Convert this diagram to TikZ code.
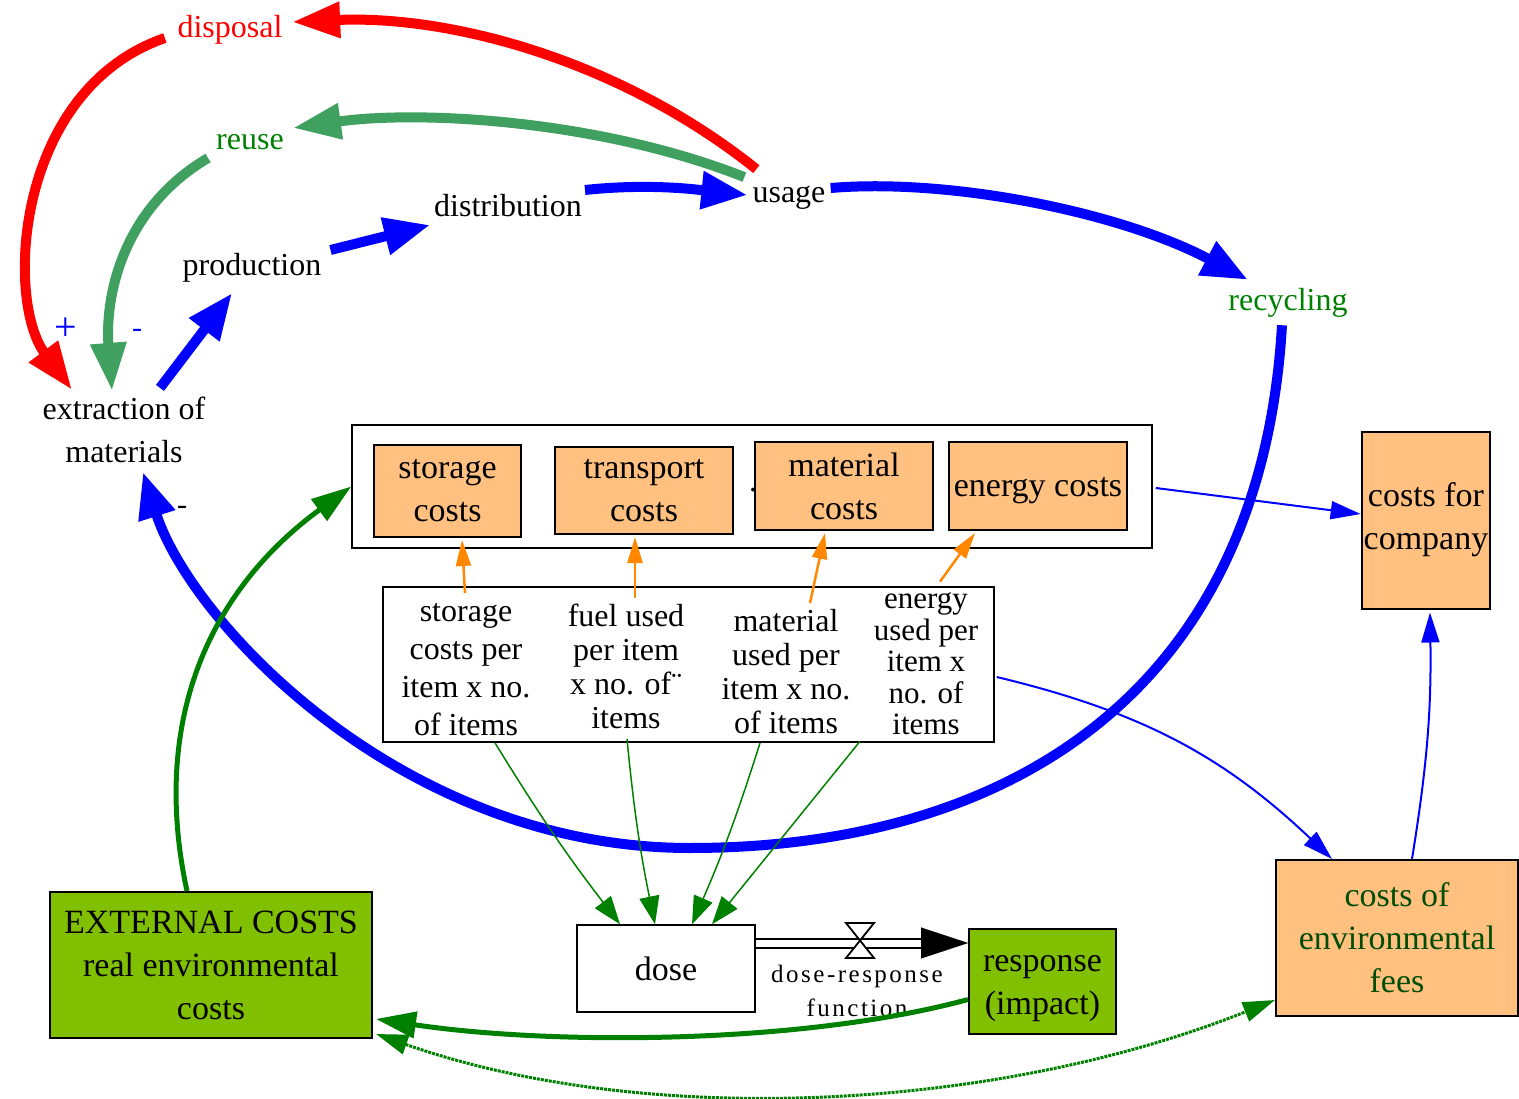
\documentclass[tikz,border=0pt]{standalone}
\usepackage{fontspec}
\setmainfont{Liberation Serif}
\usetikzlibrary{arrows.meta}
\definecolor{costorange}{RGB}{255,192,128}
\definecolor{impactgreen}{RGB}{128,192,0}
\definecolor{reusegreen}{RGB}{64,160,96}
\definecolor{labelgreen}{RGB}{0,128,0}
\definecolor{feegreen}{RGB}{0,77,0}
\definecolor{feedorange}{RGB}{255,136,0}

\begin{document}
\begin{tikzpicture}[x=1pt,y=-1pt,
    every node/.style={font=\fontsize{32}{43}\selectfont, align=center, inner sep=2pt},
    flow/.style={line width=10pt, draw=blue, -{Triangle[length=46pt,width=36pt]}},
    dump/.style={line width=10pt, draw=red, -{Triangle[length=48pt,width=34pt]}},
    back/.style={line width=10pt, draw=reusegreen, -{Triangle[length=48pt,width=34pt]}},
    feed/.style={line width=2.5pt, draw=feedorange, -{Triangle[length=26pt,width=15pt]}},
    link/.style={line width=1.5pt, draw=labelgreen, -{Triangle[length=28pt,width=20pt]}},
    money/.style={line width=2pt, draw=blue, -{Triangle[length=30pt,width=18pt]}},
    impact/.style={line width=5pt, draw=labelgreen, -{Triangle[length=40pt,width=26pt]}},
    dotlink/.style={line width=3pt, densely dotted, draw=labelgreen, {Triangle[length=32pt,width=20pt]}-{Triangle[length=32pt,width=20pt]}},
    sign/.style={font=\fontsize{30}{32}\selectfont},
    costbox/.style={draw, line width=2pt, fill=costorange, font=\fontsize{34}{43}\selectfont},
    greenbox/.style={draw, line width=2pt, fill=impactgreen, font=\fontsize{34}{43}\selectfont},
    plainbox/.style={draw, line width=1.5pt, fill=white, font=\fontsize{34}{43}\selectfont}
]
\useasboundingbox (0,0) rectangle (1519,1099);

% life cycle
\node (extraction) at (124,430) {extraction of\\materials};
\node (production) at (252,268) {production};
\node (distribution) at (508,206) {distribution};
\node (usage) at (789,198) {usage};
\node[text=labelgreen] (recycling) at (1288,303) {recycling};
\node[text=red] (disposal) at (230,30) {disposal};
\node[text=labelgreen] (reuse) at (250,142) {reuse};
\node[sign, font=\fontsize{40}{42}\selectfont, text=blue] (plus) at (66,329) {+};
\node[sign, text=blue] (minusreuse) at (137,333) {-};
\node[sign] (minusrecycle) at (182,510) {-};

% costs
\node[plainbox, minimum width=800pt, minimum height=123pt] (costs) at (752,486.5) {};
\node[costbox, minimum width=147pt, minimum height=92pt] (storage) at (447.5,491) {storage\\costs};
\node[costbox, minimum width=178pt, minimum height=87pt] (transport) at (644,490.5) {transport\\costs};
\node[costbox, minimum width=178pt, minimum height=88pt] (material) at (844,486) {material\\costs};
\node[costbox, minimum width=178pt, minimum height=88pt, label={[font=\fontsize{34}{43}\selectfont, yshift=-5pt]center:energy costs}] (energy) at (1038,486) {};
\node (dot) at (753,490) {.};
\node[costbox, minimum width=128pt, minimum height=177pt] (company) at (1426,520) {costs for\\company};

\node[plainbox, minimum width=611pt, minimum height=155pt] (items) at (688.5,664.5) {};
\node[font=\fontsize{32}{38}\selectfont] (storageper) at (466,669.5) {storage\\costs per\\item x no.\\of items};
\node[font=\fontsize{32}{34}\selectfont] (fuelper) at (626,666.5) {fuel used\\per item\\x no. of¨\\items};
\node[font=\fontsize{32}{34}\selectfont] (materialper) at (786,671.5) {material\\used per\\item x no.\\of items};
\node[font=\fontsize{31}{31.5}\selectfont] (energyper) at (926,664) {energy\\used per\\item x\\no. of\\items};

% impact
\node[plainbox, minimum width=178pt, minimum height=87pt] (dose) at (666,968.5) {dose};
\node[greenbox, minimum width=147pt, minimum height=105pt, label={[font=\fontsize{34}{43}\selectfont, yshift=-8pt]center:response\\(impact)}] (response) at (1042.5,981) {};
\node[font=\fontsize{25}{34}\selectfont\addfontfeatures{LetterSpace=10}] (drlabel) at (857,991) {dose-response\\function};
\node[greenbox, minimum width=322pt, minimum height=146pt] (external) at (211,965) {EXTERNAL COSTS\\real environmental\\costs};
\node[costbox, text=feegreen, minimum width=242pt, minimum height=156pt] (fees) at (1397,938) {costs of\\environmental\\fees};

% material flow
\draw[flow] ([xshift=36pt,yshift=7pt]extraction.north) -- ([xshift=-20pt,yshift=-8.5pt]production.south);
\draw[flow] ([xshift=7pt,yshift=18pt]production.east) -- ([xshift=-2pt,yshift=-19pt]distribution.west);
\draw[flow] ([xshift=1pt,yshift=16pt]distribution.east) .. controls (650,183) and (700,190) .. ([xshift=-3pt,yshift=3pt]usage.west);
\draw[flow] ([xshift=3pt,yshift=10pt]usage.east) .. controls (950,178) and (1120,212) .. ([xshift=21.5pt,yshift=6.5pt]recycling.north west);
\draw[flow] ([xshift=-6pt,yshift=-5.5pt]recycling.south) .. controls (1260,700) and (1000,848) .. (690,848)
    .. controls (400,848) and (190,620) .. ([xshift=19pt,yshift=-7pt]extraction.south);
\draw[dump] ([xshift=6pt,yshift=15pt]usage.north west) .. controls (620,60) and (450,15) .. ([xshift=7.5pt,yshift=8pt]disposal.east);
\draw[dump] ([xshift=-10.5pt,yshift=-8pt]disposal.west) .. controls (15,90) and (5,300) .. ([xshift=-52pt,yshift=5pt]extraction.north);
\draw[back] ([xshift=-6pt,yshift=7pt]usage.north west) .. controls (600,120) and (420,110) .. ([xshift=7pt,yshift=14pt]reuse.east);
\draw[back] ([xshift=-6pt,yshift=-16pt]reuse.west) .. controls (120,210) and (105,300) .. ([xshift=-12pt,yshift=4pt]extraction.north);

% cost drivers
\foreach \src/\dst/\sx/\sy/\dx in {storageper/storage/-1/8/14.5, fuelper/transport/9/4/-9,
    materialper/material/24/4/-19, energyper/energy/14/9/-63}
  \draw[feed] ([xshift=\sx pt,yshift=\sy pt]\src.north) -- ([xshift=\dx pt,yshift=-2pt]\dst.south);
\foreach \src/\sx/\sy/\dx/\bend in {storageper/29/-5/-46/3, fuelper/1/-8/-11/3, materialper/-26/-7/26/-3, energyper/-66/-4/46/0}
  \draw[link] ([xshift=\sx pt,yshift=\sy pt]\src.south) to[bend right=\bend] ([xshift=\dx pt]dose.north);

\draw[money] ([xshift=3pt,yshift=-1.5pt]costs.east) -- ([yshift=6pt]company.west);
\draw[money] ([xshift=15pt]fees.north) to[bend right=5] ([xshift=4pt,yshift=-3pt]company.south);
\draw[money] ([xshift=2pt,yshift=-12.5pt]items.east) to[bend left=15] ([xshift=57pt]fees.north west);

% dose-response
\draw[double, double distance=7pt, line width=2pt] ([yshift=25.5pt]dose.east) -- ([xshift=-46pt,yshift=38pt]response.west);
\draw[line width=0.1pt, -{Triangle[length=47pt,width=31pt]}] ([xshift=-47pt,yshift=38pt]response.west) -- ([yshift=38pt]response.west);
\draw[line width=1.8pt, fill=white] (846,923) -- (874,923) -- (846,958) -- (874,958) -- cycle;

\draw[impact] ([xshift=-24pt]external.north) .. controls (150,720) and (210,590) .. (costs.west);
\draw[impact] ([yshift=-18.5pt]response.west) .. controls (800,1045) and (550,1045) .. ([xshift=3pt,yshift=20pt]external.south east);
\draw[dotlink] ([xshift=3pt,yshift=5pt]external.south east) .. controls (650,1130) and (1000,1110) .. ([yshift=17pt]fees.south west);

\end{tikzpicture}
\end{document}
